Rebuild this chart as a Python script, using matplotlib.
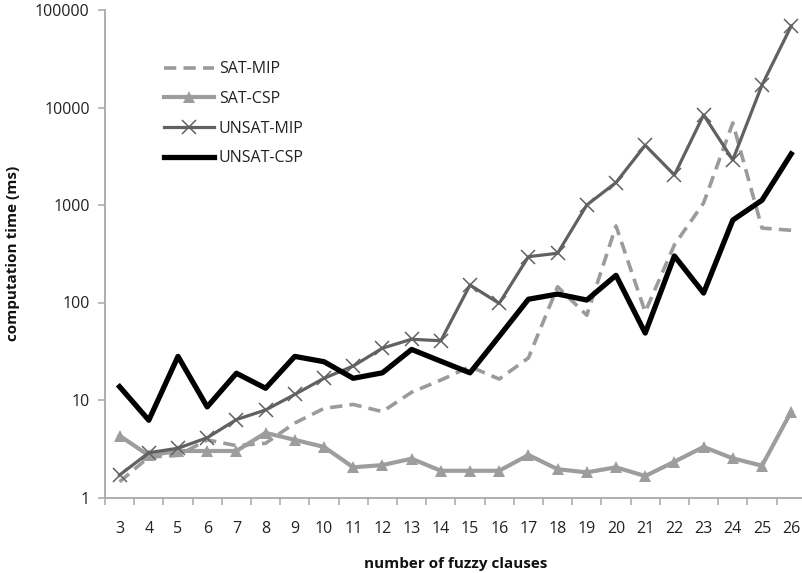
import matplotlib
matplotlib.use("Agg")
import matplotlib.pyplot as plt
from matplotlib.ticker import FixedLocator, NullFormatter, FixedFormatter

plt.rcParams['font.family'] = ['Open Sans', 'DejaVu Sans']

clauses = list(range(3, 27))

sat_mip = [1.45, 2.6, 2.7, 3.9, 3.4, 3.6, 5.8, 8.2, 9.0, 7.6, 12, 16, 22, 16.4,
           27, 145, 74, 610, 80, 390, 1050, 6950, 580, 550]
sat_csp = [4.3, 2.7, 3.0, 3.0, 3.0, 4.6, 3.9, 3.3, 2.04, 2.15, 2.5, 1.88, 1.88, 1.88,
           2.73, 1.95, 1.81, 2.04, 1.66, 2.33, 3.3, 2.52, 2.12, 7.6]
unsat_mip = [1.7, 2.88, 3.2, 4.1, 6.3, 7.9, 11.4, 16.7, 22.3, 34, 42, 40.5, 151, 98,
             295, 320, 1000, 1700, 4100, 2030, 8400, 2900, 17000, 68500]
unsat_csp = [13.7, 6.2, 28, 8.5, 18.8, 13.2, 28, 24.7, 16.7, 19, 33, 25, 19, 45,
             108, 122, 106, 190, 48.6, 300, 125, 700, 1120, 3340]

y_ticks = [1, 10, 100, 1000, 10000, 100000]
y_tick_labels = ["1", "10", "100", "1000", "10000", "100000"]

W, H = 803, 573
fig = plt.figure(figsize=(W / 100, H / 100), dpi=100)
ax = fig.add_axes([105 / W, 75.5 / H, 700.8 / W, 487.5 / H])

ax.plot(clauses, sat_mip, color="#9b9b9b", lw=2.6, linestyle=(0, (3.4, 2.0)),
        label="SAT-MIP", zorder=2)
ax.plot(clauses, sat_csp, color="#9d9d9d", lw=3.0, marker="^", markersize=9,
        markeredgewidth=0, label="SAT-CSP", zorder=3)
ax.plot(clauses, unsat_mip, color="#616161", lw=2.3, marker="x", markersize=10,
        markeredgewidth=1.1, label="UNSAT-MIP", zorder=4)
ax.plot(clauses, unsat_csp, color="#000000", lw=3.8, label="UNSAT-CSP", zorder=5)

ax.set_yscale("log")
ax.set_ylim(1, 100000)
ax.set_xlim(2.5, 26.5)

ax.yaxis.set_major_locator(FixedLocator(y_ticks))
ax.yaxis.set_major_formatter(FixedFormatter(y_tick_labels))
ax.yaxis.set_minor_locator(FixedLocator([]))
ax.yaxis.set_minor_formatter(NullFormatter())

ax.set_xticks(clauses)
ax.set_xticklabels([str(c) for c in clauses])
ax.xaxis.set_minor_locator(FixedLocator([c + 0.5 for c in clauses[:-1]] + [2.5]))

for s in ("top", "right"):
    ax.spines[s].set_visible(False)
for s in ("left", "bottom"):
    ax.spines[s].set_color("#a8a8a8")
    ax.spines[s].set_linewidth(1.3)

ax.tick_params(axis="x", which="major", length=0, pad=17, labelsize=11.5,
               colors="#222222")
ax.tick_params(axis="x", which="minor", length=5, width=1.1, color="#a8a8a8",
               direction="out")
ax.tick_params(axis="y", which="major", length=5, width=1.1, color="#a8a8a8",
               pad=6, labelsize=11.5, labelcolor="#222222")

ax.set_xlabel("number of fuzzy clauses", fontsize=11, fontweight="bold",
              labelpad=14, color="#111111")
ax.set_ylabel("computation time (ms)", fontsize=11, fontweight="bold",
              labelpad=14, color="#111111")
ax.yaxis.set_label_coords(-85 / 700.8, 0.5)

leg = ax.legend(loc="upper left", bbox_to_anchor=(150 / W, 1 - 47 / H),
                bbox_transform=fig.transFigure, frameon=False, fontsize=11.5,
                handlelength=3.1, handletextpad=0.3, labelspacing=0.85)
for t in leg.get_texts():
    t.set_color("#222222")

fig.savefig("out.png", dpi=100)
